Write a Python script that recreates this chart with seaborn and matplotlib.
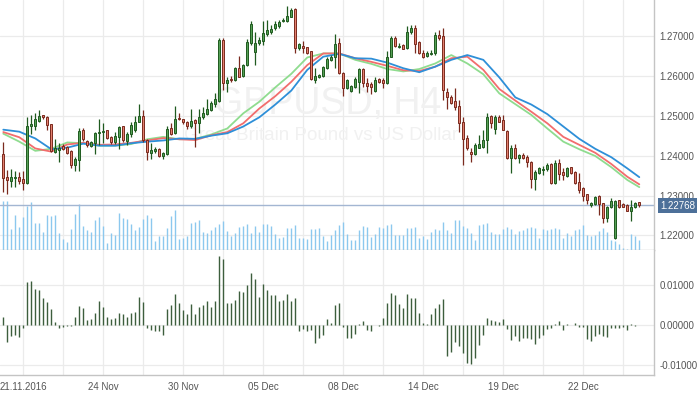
import matplotlib
matplotlib.use("Agg")
import matplotlib.pyplot as plt
import matplotlib.transforms as mtransforms
import numpy as np
import seaborn as sns

# ---------------- data (GBPUSD, H4) ----------------
opens = [1.2404, 1.2346, 1.2336, 1.2343, 1.2347, 1.2341, 1.2332, 1.2475, 1.2475, 1.2488,
         1.2501, 1.2498, 1.2478, 1.2410, 1.2414, 1.2425, 1.2422, 1.2412, 1.2376, 1.2388,
         1.2464, 1.2437, 1.2425, 1.2431, 1.2456, 1.2458, 1.2463, 1.2447, 1.2433, 1.2446,
         1.2473, 1.2437, 1.2453, 1.2463, 1.2485, 1.2500, 1.2439, 1.2406, 1.2412, 1.2417,
         1.2399, 1.2404, 1.2468, 1.2456, 1.2495, 1.2492, 1.2485, 1.2473, 1.2489, 1.2481,
         1.2496, 1.2504, 1.2514, 1.2529, 1.2538, 1.2691, 1.2581, 1.2592, 1.2590, 1.2620,
         1.2600, 1.2627, 1.2683, 1.2659, 1.2681, 1.2688, 1.2704, 1.2710, 1.2719, 1.2725,
         1.2737, 1.2738, 1.2748, 1.2767, 1.2669, 1.2675, 1.2671, 1.2661, 1.2590, 1.2598,
         1.2600, 1.2619, 1.2640, 1.2646, 1.2681, 1.2608, 1.2569, 1.2563, 1.2573, 1.2585,
         1.2616, 1.2581, 1.2579, 1.2563, 1.2592, 1.2590, 1.2581, 1.2648, 1.2696, 1.2673,
         1.2677, 1.2669, 1.2711, 1.2721, 1.2684, 1.2658, 1.2650, 1.2654, 1.2656, 1.2702,
         1.2700, 1.2560, 1.2546, 1.2538, 1.2525, 1.2485, 1.2443, 1.2410, 1.2404, 1.2420,
         1.2421, 1.2439, 1.2499, 1.2466, 1.2498, 1.2489, 1.2462, 1.2393, 1.2420, 1.2395,
         1.2401, 1.2397, 1.2385, 1.2341, 1.2357, 1.2364, 1.2366, 1.2379, 1.2331, 1.2381,
         1.2358, 1.2350, 1.2371, 1.2360, 1.2335, 1.2318, 1.2303, 1.2275, 1.2279, 1.2300,
         1.2280, 1.2243, 1.2270, 1.2193, 1.2289, 1.2278, 1.2276, 1.2260, 1.2272, 1.2283]
highs = [1.2435, 1.2364, 1.2366, 1.2362, 1.2360, 1.2362, 1.2496, 1.2502, 1.2506, 1.2514,
         1.2502, 1.2499, 1.2479, 1.2441, 1.2432, 1.2428, 1.2424, 1.2414, 1.2397, 1.2470,
         1.2468, 1.2439, 1.2437, 1.2459, 1.2493, 1.2481, 1.2465, 1.2449, 1.2458, 1.2474,
         1.2474, 1.2458, 1.2483, 1.2500, 1.2529, 1.2514, 1.2441, 1.2432, 1.2422, 1.2418,
         1.2410, 1.2474, 1.2481, 1.2524, 1.2506, 1.2493, 1.2488, 1.2518, 1.2493, 1.2516,
         1.2523, 1.2543, 1.2538, 1.2556, 1.2694, 1.2694, 1.2598, 1.2600, 1.2621, 1.2650,
         1.2629, 1.2693, 1.2738, 1.2711, 1.2698, 1.2738, 1.2740, 1.2727, 1.2738, 1.2740,
         1.2744, 1.2775, 1.2769, 1.2769, 1.2683, 1.2686, 1.2673, 1.2662, 1.2620, 1.2605,
         1.2625, 1.2648, 1.2652, 1.2704, 1.2696, 1.2610, 1.2592, 1.2578, 1.2598, 1.2620,
         1.2620, 1.2594, 1.2585, 1.2596, 1.2595, 1.2594, 1.2661, 1.2700, 1.2700, 1.2683,
         1.2680, 1.2725, 1.2727, 1.2727, 1.2686, 1.2665, 1.2661, 1.2665, 1.2709, 1.2716,
         1.2719, 1.2569, 1.2552, 1.2569, 1.2539, 1.2498, 1.2452, 1.2418, 1.2431, 1.2452,
         1.2464, 1.2508, 1.2502, 1.2502, 1.2502, 1.2502, 1.2464, 1.2427, 1.2429, 1.2404,
         1.2407, 1.2401, 1.2387, 1.2364, 1.2371, 1.2374, 1.2381, 1.2382, 1.2389, 1.2391,
         1.2368, 1.2372, 1.2372, 1.2362, 1.2356, 1.2322, 1.2305, 1.2285, 1.2300, 1.2301,
         1.2282, 1.2274, 1.2293, 1.2290, 1.2290, 1.2280, 1.2279, 1.2289, 1.2283, 1.2285]
lows = [1.2310, 1.2303, 1.2322, 1.2322, 1.2329, 1.2315, 1.2328, 1.2453, 1.2463, 1.2484,
        1.2493, 1.2464, 1.2410, 1.2407, 1.2385, 1.2413, 1.2404, 1.2368, 1.2362, 1.2362,
        1.2437, 1.2422, 1.2422, 1.2403, 1.2427, 1.2431, 1.2442, 1.2429, 1.2429, 1.2417,
        1.2435, 1.2426, 1.2447, 1.2460, 1.2483, 1.2435, 1.2388, 1.2392, 1.2407, 1.2396,
        1.2392, 1.2401, 1.2452, 1.2454, 1.2489, 1.2478, 1.2467, 1.2468, 1.2422, 1.2456,
        1.2493, 1.2502, 1.2513, 1.2523, 1.2535, 1.2564, 1.2560, 1.2585, 1.2587, 1.2596,
        1.2598, 1.2625, 1.2677, 1.2627, 1.2677, 1.2677, 1.2700, 1.2706, 1.2715, 1.2721,
        1.2736, 1.2736, 1.2747, 1.2658, 1.2665, 1.2656, 1.2654, 1.2590, 1.2581, 1.2594,
        1.2598, 1.2617, 1.2638, 1.2619, 1.2605, 1.2549, 1.2566, 1.2560, 1.2569, 1.2556,
        1.2571, 1.2560, 1.2554, 1.2560, 1.2581, 1.2569, 1.2580, 1.2646, 1.2671, 1.2669,
        1.2666, 1.2666, 1.2706, 1.2658, 1.2655, 1.2644, 1.2646, 1.2652, 1.2652, 1.2691,
        1.2539, 1.2516, 1.2529, 1.2514, 1.2460, 1.2376, 1.2414, 1.2385, 1.2402, 1.2418,
        1.2418, 1.2406, 1.2468, 1.2454, 1.2483, 1.2463, 1.2391, 1.2357, 1.2391, 1.2381,
        1.2391, 1.2372, 1.2318, 1.2314, 1.2354, 1.2351, 1.2362, 1.2328, 1.2329, 1.2339,
        1.2339, 1.2347, 1.2354, 1.2330, 1.2307, 1.2287, 1.2279, 1.2272, 1.2276, 1.2251,
        1.2232, 1.2234, 1.2268, 1.2190, 1.2268, 1.2270, 1.2260, 1.2237, 1.2268, 1.2272]
closes = [1.2343, 1.2338, 1.2346, 1.2346, 1.2336, 1.2332, 1.2473, 1.2478, 1.2493, 1.2499,
          1.2496, 1.2477, 1.2412, 1.2418, 1.2420, 1.2417, 1.2407, 1.2376, 1.2391, 1.2462,
          1.2441, 1.2427, 1.2435, 1.2456, 1.2458, 1.2462, 1.2445, 1.2434, 1.2448, 1.2472,
          1.2438, 1.2453, 1.2476, 1.2483, 1.2499, 1.2438, 1.2408, 1.2414, 1.2417, 1.2399,
          1.2406, 1.2466, 1.2455, 1.2492, 1.2491, 1.2483, 1.2474, 1.2487, 1.2481, 1.2498,
          1.2506, 1.2518, 1.2531, 1.2541, 1.2691, 1.2581, 1.2590, 1.2590, 1.2619, 1.2598,
          1.2627, 1.2685, 1.2730, 1.2681, 1.2690, 1.2708, 1.2716, 1.2718, 1.2730, 1.2736,
          1.2740, 1.2751, 1.2765, 1.2669, 1.2679, 1.2669, 1.2656, 1.2591, 1.2600, 1.2601,
          1.2623, 1.2641, 1.2646, 1.2680, 1.2606, 1.2569, 1.2590, 1.2574, 1.2593, 1.2616,
          1.2581, 1.2574, 1.2571, 1.2590, 1.2585, 1.2581, 1.2648, 1.2694, 1.2675, 1.2675,
          1.2668, 1.2711, 1.2721, 1.2680, 1.2658, 1.2648, 1.2656, 1.2658, 1.2702, 1.2696,
          1.2564, 1.2546, 1.2531, 1.2523, 1.2481, 1.2441, 1.2420, 1.2404, 1.2427, 1.2428,
          1.2439, 1.2498, 1.2481, 1.2498, 1.2485, 1.2464, 1.2393, 1.2418, 1.2393, 1.2401,
          1.2395, 1.2383, 1.2341, 1.2360, 1.2368, 1.2366, 1.2376, 1.2331, 1.2381, 1.2354,
          1.2352, 1.2368, 1.2357, 1.2332, 1.2315, 1.2299, 1.2289, 1.2280, 1.2297, 1.2279,
          1.2243, 1.2272, 1.2286, 1.2286, 1.2270, 1.2272, 1.2262, 1.2272, 1.2280, 1.22768]

# tick volume (arbitrary units, no axis shown)
volumes = [148, 148, 63, 106, 70, 100, 131, 144, 82, 82,
           55, 106, 103, 106, 52, 34, 25, 64, 109, 137,
           73, 61, 55, 91, 100, 73, 22, 52, 46, 110,
           97, 94, 79, 61, 70, 94, 104, 97, 28, 43,
           43, 67, 103, 121, 34, 37, 43, 82, 85, 91,
           55, 52, 61, 70, 79, 88, 58, 43, 52, 70,
           73, 79, 52, 73, 55, 79, 79, 73, 49, 37,
           40, 67, 67, 76, 37, 37, 34, 64, 64, 67,
           43, 28, 46, 61, 76, 85, 49, 31, 31, 61,
           73, 70, 40, 49, 70, 67, 76, 79, 46, 46,
           46, 67, 67, 70, 37, 43, 34, 55, 64, 61,
           85, 61, 52, 91, 91, 73, 67, 52, 31, 76,
           79, 81, 55, 49, 49, 64, 70, 64, 49, 58,
           61, 67, 70, 67, 37, 64, 61, 64, 67, 64,
           37, 52, 43, 61, 64, 76, 46, 42, 46, 58,
           65, 55, 31, 28, 18, 6, 2, 48, 41, 31]

# oscillator (lower panel)
oscillator = [0.0022, -0.0041, -0.0028, -0.0024, -0.0030, -0.0008, 0.0110, 0.0112, 0.0090, 0.0089,
              0.0069, 0.0059, 0.0042, 0.0008, -0.0008, -0.0004, -0.0002, -0.0003, 0.0020, 0.0049,
              0.0044, 0.0013, 0.0016, 0.0030, 0.0061, 0.0045, 0.0022, 0.0017, 0.0018, 0.0030,
              0.0028, 0.0022, 0.0031, 0.0034, 0.0071, 0.0059, -0.0008, -0.0013, -0.0014, -0.0015,
              -0.0025, 0.0041, 0.0050, 0.0079, 0.0056, 0.0038, 0.0028, 0.0054, 0.0028, 0.0045,
              0.0050, 0.0061, 0.0045, 0.0061, 0.0174, 0.0166, 0.0055, 0.0055, 0.0064, 0.0087,
              0.0083, 0.0101, 0.0131, 0.0116, 0.0071, 0.0105, 0.0089, 0.0075, 0.0075, 0.0060,
              0.0064, 0.0078, 0.0062, 0.0069, -0.0015, -0.0010, -0.0015, -0.0013, -0.0044, -0.0032,
              -0.0025, 0.0015, 0.0007, 0.0051, 0.0055, -0.0005, -0.0033, -0.0033, -0.0023, 0.0003,
              0.0010, -0.0013, -0.0015, 0.0001, -0.0002, 0.0018, 0.0057, 0.0081, 0.0077, 0.0054,
              0.0044, 0.0078, 0.0069, 0.0069, 0.0030, 0.0007, 0.0002, 0.0028, 0.0044, 0.0053,
              0.0065, -0.0077, -0.0066, -0.0041, -0.0053, -0.0070, -0.0095, -0.0098, -0.0081, -0.0050,
              -0.0025, 0.0018, 0.0013, 0.0011, 0.0008, 0.0015, -0.0010, -0.0038, -0.0028, -0.0039,
              -0.0031, -0.0033, -0.0035, -0.0048, -0.0031, -0.0025, -0.0010, -0.0006, 0.0003, 0.0012,
              -0.0013, 0.0003, 0.0001, 0.0005, -0.0005, -0.0004, -0.0035, -0.0039, -0.0028, -0.0021,
              -0.0028, -0.0029, -0.0008, -0.0008, -0.0007, -0.0005, -0.0012, 0.0003, -0.0003, 0.0000]

# moving averages read every 4 bars
ma_index = list(range(0, 157, 4)) + [159]
ma_blue = [1.2465, 1.2460, 1.2443, 1.2416, 1.2420, 1.2430, 1.2425, 1.2425, 1.2431, 1.2435,
           1.2438, 1.2443, 1.2442, 1.2450, 1.2456, 1.2473, 1.2496, 1.2528, 1.2563, 1.2615,
           1.2648, 1.2655, 1.2644, 1.2643, 1.2633, 1.2619, 1.2609, 1.2623, 1.2640, 1.2652,
           1.2640, 1.2596, 1.2546, 1.2528, 1.2504, 1.2473, 1.2442, 1.2417, 1.2396, 1.2368,
           1.2346]
ma_red = [1.2459, 1.2446, 1.2418, 1.2410, 1.2428, 1.2432, 1.2427, 1.2428, 1.2432, 1.2438,
          1.2444, 1.2441, 1.2439, 1.2451, 1.2459, 1.2481, 1.2518, 1.2549, 1.2585, 1.2627,
          1.2656, 1.2656, 1.2644, 1.2635, 1.2625, 1.2614, 1.2612, 1.2623, 1.2644, 1.2648,
          1.2615, 1.2567, 1.2538, 1.2510, 1.2481, 1.2447, 1.2427, 1.2407, 1.2379, 1.2347,
          1.2328]
ma_green = [1.2455, 1.2435, 1.2412, 1.2417, 1.2433, 1.2431, 1.2425, 1.2425, 1.2429, 1.2441,
            1.2447, 1.2441, 1.2442, 1.2453, 1.2468, 1.2506, 1.2535, 1.2571, 1.2605, 1.2646,
            1.2656, 1.2656, 1.2640, 1.2630, 1.2617, 1.2611, 1.2617, 1.2631, 1.2652, 1.2631,
            1.2604, 1.2556, 1.2529, 1.2502, 1.2468, 1.2435, 1.2416, 1.2399, 1.2371, 1.2339,
            1.2321]

date_ticks = [5, 25, 45, 65, 85, 105, 125, 145]
date_labels = ["21.11.2016", "24 Nov", "30 Nov", "05 Dec", "08 Dec", "14 Dec", "19 Dec", "22 Dec"]
grid_ticks = list(range(5, 160, 10))
price_ticks = [1.22, 1.23, 1.24, 1.25, 1.26, 1.27]
osc_ticks = [-0.01, 0.0, 0.01]
last_price = 1.22768

# ---------------- style ----------------
sns.set_theme(style="white")
plt.rcParams['font.family'] = ['Liberation Sans', 'DejaVu Sans']

GRID = "#ebebeb"
SPINE = "#c4c4c4"
TXT = "#555555"
UP_FILL, UP_EDGE = "#56a056", "#1f5a1f"
DN_FILL, DN_EDGE = "#e3806f", "#7a2a1e"

fig = plt.figure(figsize=(7.0, 3.94), dpi=100)
fig.patch.set_facecolor("white")
ax = fig.add_axes([0.0, 144 / 394, 654 / 700, 250 / 394])
axo = fig.add_axes([0.0, 19 / 394, 654 / 700, 125 / 394], sharex=ax)

x = np.arange(len(closes))
o = np.array(opens); h = np.array(highs); l = np.array(lows); c = np.array(closes)
up = c >= o

xlim = (-0.825, 162.675)
ax.set_xlim(*xlim)
ax.set_ylim(1.216345, 1.2790)
axo.set_ylim(-0.01249, 0.01892)

for a in (ax, axo):
    a.set_facecolor("white")
    for gx in grid_ticks:
        a.axvline(gx, color=GRID, lw=0.9, zorder=0)
    for s in ("left", "top"):
        a.spines[s].set_visible(False)
    for s in ("right", "bottom"):
        a.spines[s].set_color(SPINE)
        a.spines[s].set_linewidth(1.0)
    a.yaxis.tick_right()
    a.tick_params(axis="y", length=0, pad=4, labelsize=7, labelcolor=TXT)
    a.grid(False)

for py in price_ticks:
    ax.axhline(py, color=GRID, lw=0.9, zorder=0)
for oy in osc_ticks:
    axo.axhline(oy, color=GRID, lw=0.9, zorder=0)

ax.set_yticks(price_ticks)
ax.set_yticklabels([f"{v:.5f}" for v in price_ticks])
axo.set_yticks(osc_ticks)
axo.set_yticklabels([f"{v:.5f}" for v in osc_ticks])

ax.tick_params(axis="x", bottom=False, labelbottom=False)
axo.set_xticks(date_ticks)
axo.set_xticklabels(date_labels)
axo.tick_params(axis="x", length=3, color=SPINE, labelsize=7, labelcolor=TXT, pad=2)

# watermark
ax.text(0.501, 0.584, "GBPUSD, H4", transform=ax.transAxes, ha="center", va="center",
        fontsize=27, color="#f1f1f1", zorder=0.5)
ax.text(0.491, 0.46, "Great Britain Pound vs US Dollar", transform=ax.transAxes,
        ha="center", va="center", fontsize=13.5, color="#f1f1f1", zorder=0.5)

# volume (bottom band of the price panel)
vol_scale = 750.0
ax.vlines(x, 0, np.array(volumes) / vol_scale, transform=ax.get_xaxis_transform(),
          colors="#8cc8ee", lw=1.0, zorder=1)

# moving averages
sns.lineplot(x=ma_index, y=ma_green, ax=ax, color="#8fdc8f", lw=1.3, zorder=2, legend=False)
sns.lineplot(x=ma_index, y=ma_red, ax=ax, color="#f26d6d", lw=1.3, zorder=2, legend=False)
sns.lineplot(x=ma_index, y=ma_blue, ax=ax, color="#2e8fd8", lw=1.3, zorder=2, legend=False)
ax.set_xlabel(""); ax.set_ylabel("")

# current price line
ax.axhline(last_price, color="#a3b6d2", lw=1.0, zorder=1.5)

# candles
wick_colors = [UP_EDGE if u else DN_EDGE for u in up]
ax.vlines(x, l, h, colors=wick_colors, lw=0.9, zorder=3)
body_bottom = np.minimum(o, c)
body_height = np.maximum(np.abs(c - o), 0.00008)
ax.bar(x[up], body_height[up], bottom=body_bottom[up], width=0.55,
       color=UP_FILL, edgecolor=UP_EDGE, linewidth=0.7, zorder=4)
ax.bar(x[~up], body_height[~up], bottom=body_bottom[~up], width=0.55,
       color=DN_FILL, edgecolor=DN_EDGE, linewidth=0.7, zorder=4)

# price label
trans = mtransforms.blended_transform_factory(ax.transAxes, ax.transData)
ax.text(1.0 + 6 / 654, last_price - 0.0002, f"{last_price:.5f}", transform=trans,
        ha="left", va="center", fontsize=7, color="white", clip_on=False, zorder=10,
        bbox=dict(boxstyle="square,pad=0.22", fc="#4d7099", ec="none"))

# oscillator histogram
axo.vlines(x, 0, oscillator, colors="#3d5e3d", lw=1.0, zorder=3)
axo.set_xlim(*xlim)

fig.savefig("out.png", dpi=100, facecolor="white")
